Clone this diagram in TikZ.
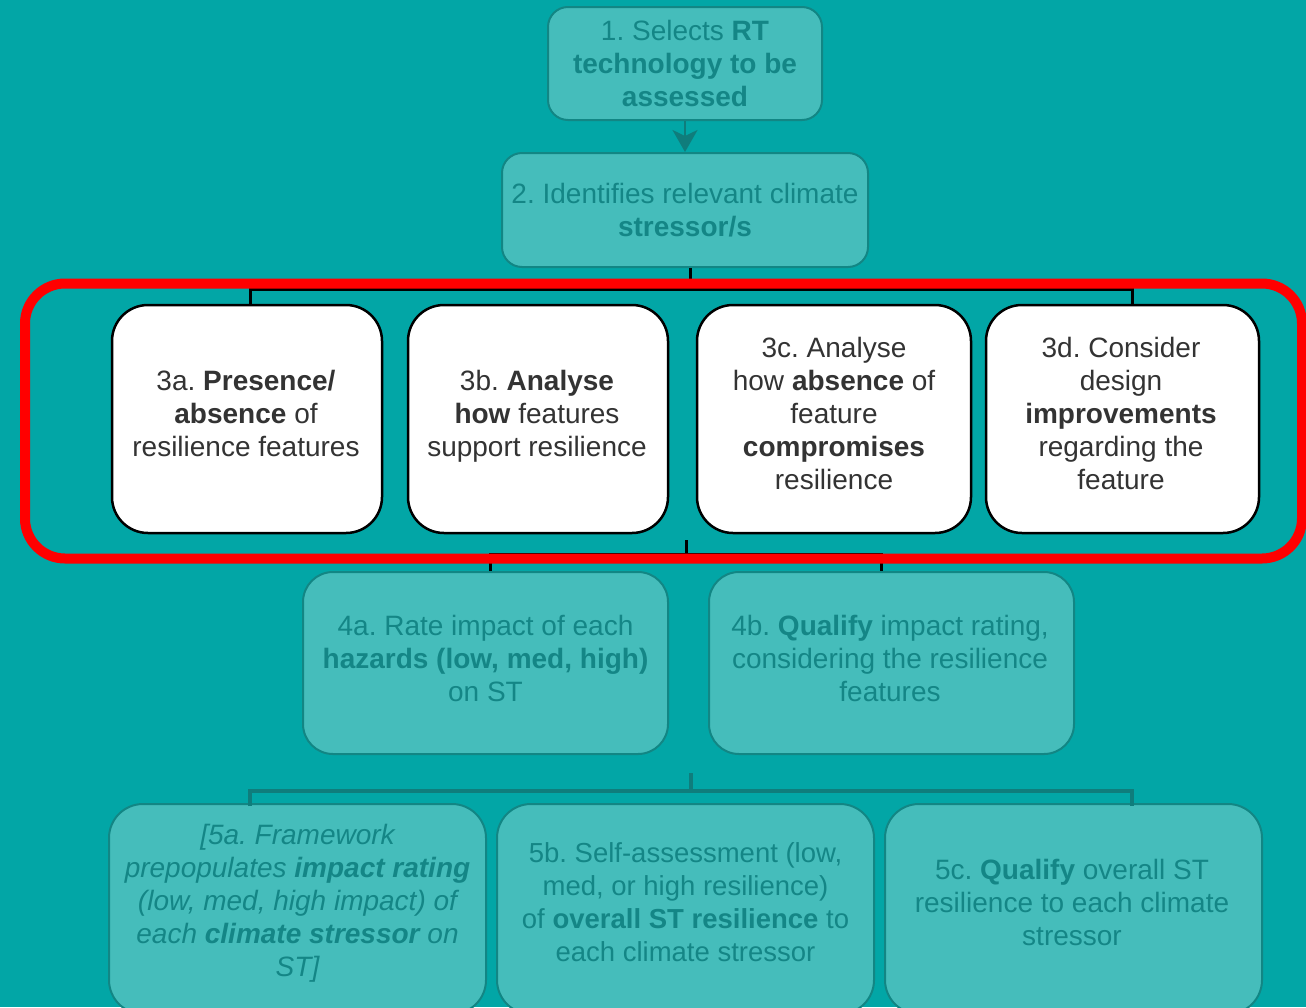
\documentclass[tikz,border=0pt]{standalone}
\usepackage{fontspec}
\setmainfont{Liberation Sans}
\usetikzlibrary{arrows.meta}
\definecolor{bgteal}{RGB}{2,166,166}
\definecolor{boxfill}{RGB}{69,189,187}
\definecolor{boxline}{RGB}{18,134,132}
\definecolor{fadetxt}{RGB}{20,134,134}
\definecolor{darktxt}{RGB}{51,51,51}
\definecolor{linkteal}{RGB}{15,125,124}
\definecolor{hlred}{RGB}{255,0,0}
\frenchspacing
\begin{document}
\begin{tikzpicture}[x=1pt,y=-1pt,
  fadebox/.style={draw=boxline, line width=2pt, fill=boxfill, inner sep=0pt},
  whitebox/.style={draw=black, line width=2.5pt, fill=white, rounded corners=36pt, inner sep=0pt,
    minimum height=228pt},
  fadetext/.style={text=fadetxt, align=center, font=\fontsize{28}{33}\selectfont, inner sep=0pt},
  darktext/.style={text=darktxt, align=center, font=\fontsize{28}{33}\selectfont, inner sep=0pt},
  blackline/.style={draw=black, line width=3pt},
  tealline/.style={draw=linkteal, line width=4pt},
]
% page and background
\fill[bgteal] (0,0) rectangle (1306,1007);
\useasboundingbox (0,0) rectangle (1306,1007);

% step 1 and 2
\node[fadebox, rounded corners=20pt, minimum width=274pt, minimum height=113pt] (b1) at (685,63.5) {};
\node[fadetext] (t1) at (685,63) {1. Selects \textbf{RT}\\ \textbf{technology to be}\\ \textbf{assessed}};
\node[fadebox, rounded corners=20pt, minimum width=366pt, minimum height=114pt] (b2) at (685,210) {};
\node[fadetext] (t2) at (685,210) {2. Identifies relevant climate\\ \textbf{stressor/s}};
\draw[linkteal, line width=2.5pt, -{Stealth[length=22pt,width=25pt,inset=6pt]}] (b1.south) -- (b2.north);

% step 3 connectors (run under the red frame)
\coordinate (j1) at (690,289);
\draw[blackline] (b2.south -| j1) -- (j1);

% step 3 boxes
\node[whitebox, minimum width=270pt] (b3a) at (247,419) {};
\node[whitebox, minimum width=260pt] (b3b) at (538,419) {};
\node[whitebox, minimum width=274pt] (b3c) at (834,419) {};
\node[whitebox, minimum width=273pt] (b3d) at (1122.5,419) {};
\draw[blackline] ([xshift=3pt]b3a.north) |- (j1) -| ([xshift=9.5pt]b3d.north);

\node[darktext] (t3a) at (246,413) {3a. \textbf{Presence/}\\ \textbf{absence} of\\ resilience features};
\node[darktext] (t3b) at (537,416) {3b. \textbf{Analyse}\\ \textbf{how} features\\ support resilience};
\node[darktext] (t3c) at (834,413) {3c. Analyse\\ how \textbf{absence} of\\ feature\\ \textbf{compromises}\\ resilience};
\node[darktext] (t3d) at (1121,413) {3d. Consider\\ design\\ \textbf{improvements}\\ regarding the\\ feature};

% step 4 boxes and connectors
\node[fadebox, rounded corners=30pt, minimum width=365pt, minimum height=182pt] (b4a) at (485.5,663) {};
\node[fadebox, rounded corners=30pt, minimum width=365pt, minimum height=182pt] (b4b) at (891.5,663) {};
\coordinate (j2top) at (686,540);
\coordinate (j2) at (686,554);
\draw[blackline] (j2top) -- (j2);
\draw[blackline] ([xshift=4.5pt]b4a.north) |- (j2) -| ([xshift=-10.5pt]b4b.north);
\node[fadetext] (t4a) at (485.5,658) {4a. Rate impact of each\\ \textbf{hazards (low, med, high)}\\ on ST};
\node[fadetext] (t4b) at (890,658) {4b. \textbf{Qualify} impact rating,\\ considering the resilience\\ features};

% highlight frame around step 3
\draw[hlred, line width=10pt, rounded corners=40pt] (25,283.5) rectangle (1302,558.5);

% step 5 boxes and connectors
\node[fadebox, rounded corners=34pt, minimum width=377pt, minimum height=210pt] (b5a) at (297.5,909) {};
\node[fadebox, rounded corners=34pt, minimum width=377pt, minimum height=210pt] (b5b) at (685.5,909) {};
\node[fadebox, rounded corners=34pt, minimum width=377pt, minimum height=210pt] (b5c) at (1073.5,909) {};
\coordinate (j3top) at (691,773);
\coordinate (j3) at (691,791);
\draw[tealline] (j3top) -- (j3);
\draw[tealline] ([xshift=-47.5pt]b5a.north) ++(0,3) |- (j3) -| ([xshift=58.5pt]b5c.north) -- ++(0,3);
\node[fadetext, font=\fontsize{28}{33}\selectfont\itshape] (t5a) at (297.5,903) {[5a. Framework\\ prepopulates \textbf{impact rating}\\ (low, med, high impact) of\\ each \textbf{climate stressor} on\\ ST]};
\node[fadetext, font=\fontsize{27.5}{33}\selectfont] (t5b) at (685.5,902) {5b. Self-assessment (low,\\ med, or high resilience)\\ of \textbf{overall ST resilience} to\\ each climate stressor};
\node[fadetext] (t5c) at (1072,902) {5c. \textbf{Qualify} overall ST\\ resilience to each climate\\ stressor};
\end{tikzpicture}
\end{document}
